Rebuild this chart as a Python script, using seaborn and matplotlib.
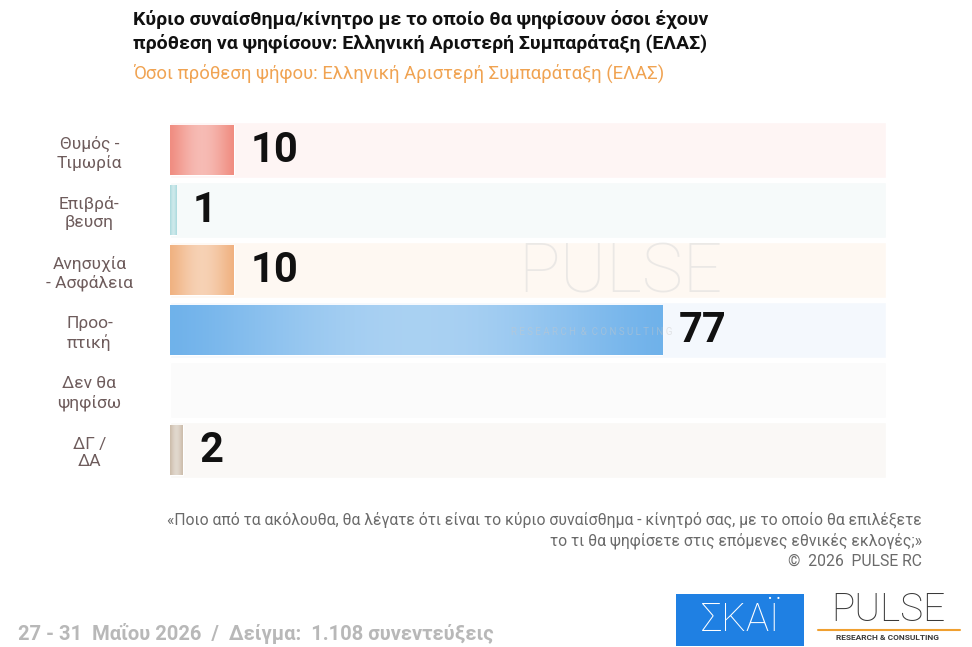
import numpy as np
import pandas as pd
import seaborn as sns
import matplotlib.pyplot as plt
import matplotlib.colors as mcolors

# Data
categories = ['Θυμός -\nΤιμωρία', 'Επιβρά-\nβευση', 'Ανησυχία\n- Ασφάλεια',
              'Προο-\nπτική', 'Δεν θα\nψηφίσω', 'ΔΓ /\nΔΑ']
values = [10, 1, 10, 77, 0, 2]
bar_colors = ['#f08a7e', '#a9d9dc', '#f0b07e', '#6cb0ea', '#c8c8c8', '#cbbba9']
track_colors = ['#fef5f4', '#f6fafa', '#fef8f2', '#f4f8fd', '#fbfbfb', '#faf8f6']

title = ('Κύριο συναίσθημα/κίνητρο με το οποίο θα ψηφίσουν όσοι έχουν\n'
         'πρόθεση να ψηφίσουν: Ελληνική Αριστερή Συμπαράταξη (ΕΛΑΣ)')
subtitle = 'Όσοι πρόθεση ψήφου: Ελληνική Αριστερή Συμπαράταξη (ΕΛΑΣ)'
question = ('«Ποιο από τα ακόλουθα, θα λέγατε ότι είναι το κύριο συναίσθημα - κίνητρό σας, με το οποίο θα επιλέξετε\n'
            'το τι θα ψηφίσετε στις επόμενες εθνικές εκλογές;»\n'
            '©  2026  PULSE RC')
sample = '27 - 31  Μαΐου 2026  /  Δείγμα:  1.108 συνεντεύξεις'

df = pd.DataFrame({'cat': categories, 'val': values})

sns.set_theme(style='white')
plt.rcParams['font.family'] = ['Roboto', 'DejaVu Sans']

fig = plt.figure(figsize=(9.72, 6.47), dpi=100)
ax = fig.add_axes([170 / 972, 1 - 480 / 647, 716 / 972, 360 / 647])
xmax = 112

# light background tracks
ax.barh(np.arange(len(categories)), xmax, height=0.93, color=track_colors, zorder=0)

sns.barplot(data=df, y='cat', x='val', hue='cat', palette=bar_colors,
            orient='h', width=0.83, legend=False, ax=ax, zorder=2)

# gradient shading on bars (lighter in the middle)
for patch, c in zip(ax.patches[len(categories):], bar_colors):
    x0, y0 = patch.get_x(), patch.get_y()
    w, h = patch.get_width(), patch.get_height()
    if w <= 0:
        continue
    base = np.array(mcolors.to_rgb(c))
    t = np.linspace(0, 1, 64)
    mix = 0.42 * np.sin(np.pi * np.clip(t * 0.9 + 0.05, 0, 1)) ** 1.5
    grad = base[None, :] * (1 - mix[:, None]) + mix[:, None]
    im = ax.imshow(grad[None, :, :], extent=[x0, x0 + w, y0 + h, y0],
                   aspect='auto', zorder=3, interpolation='bilinear')
    im.set_clip_path(patch)

ax.set_xlim(0, xmax)
ax.set_ylim(len(categories) - 0.5, -0.5)
ax.set_xlabel('')
ax.set_ylabel('')
ax.set_xticks([])
for s in ax.spines.values():
    s.set_visible(False)

ax.tick_params(axis='y', length=0, pad=58)
for lab in ax.get_yticklabels():
    lab.set_ha('center')
    lab.set_multialignment('center')
    lab.set_color('#6e5c5c')
    lab.set_fontsize(12.5)
    lab.set_linespacing(1.25)

for i, v in enumerate(values):
    if v == 0:
        continue
    ax.annotate(str(v), xy=(v, i), xytext=(12, 0), textcoords='offset points',
                va='center', ha='left', fontsize=30, fontweight='bold',
                color='#111111', zorder=5)

# watermark
fig.text(620 / 972, 1 - 274 / 647, 'PULSE', ha='center', va='center', fontsize=50,
         color='#dcdcdc', alpha=0.55, fontweight='light', zorder=10)
fig.text(592 / 972, 1 - 332 / 647, 'R E S E A R C H  &  C O N S U L T I N G', ha='center',
         va='center', fontsize=7, color='#c8c8c8', alpha=0.45, zorder=10)

# titles
fig.text(133 / 972, 1 - 10 / 647, title, ha='left', va='top', fontsize=14,
         fontweight='bold', color='#111111', linespacing=1.3)
fig.text(133 / 972, 1 - 73 / 647, subtitle, ha='left', va='center', fontsize=13.3,
         color='#f0a352')

# footnote
fig.text(922 / 972, 1 - 512 / 647, question, ha='right', va='top', fontsize=11.3,
         color='#6a6a6a', linespacing=1.35)
fig.text(18 / 972, 1 - 634 / 647, sample, ha='left', va='center', fontsize=14.5,
         fontweight='bold', color='#b8b8b8')

# logos
logo_ax = fig.add_axes([676 / 972, 1 - 646 / 647, 128 / 972, 52 / 647])
logo_ax.set_facecolor('#1f80e3')
logo_ax.set_xticks([])
logo_ax.set_yticks([])
for s in logo_ax.spines.values():
    s.set_visible(False)
logo_ax.text(0.5, 0.5, 'ΣΚΑΪ', ha='center', va='center', fontsize=28,
             color='white', fontweight='light', transform=logo_ax.transAxes)
fig.text(888 / 972, 1 - 610 / 647, 'PULSE', ha='center', va='center', fontsize=28,
         color='#3a3a3a', fontweight='light')
fig.text(888 / 972, 1 - 638 / 647, 'RESEARCH & CONSULTING', ha='center', va='center',
         fontsize=6, color='#3a3a3a', fontweight='bold')
fig.lines.append(plt.Line2D([818 / 972, 960 / 972], [1 - 630 / 647, 1 - 630 / 647],
                            transform=fig.transFigure, color='#f0a030', lw=1.5))

fig.savefig('out.png', dpi=100)
